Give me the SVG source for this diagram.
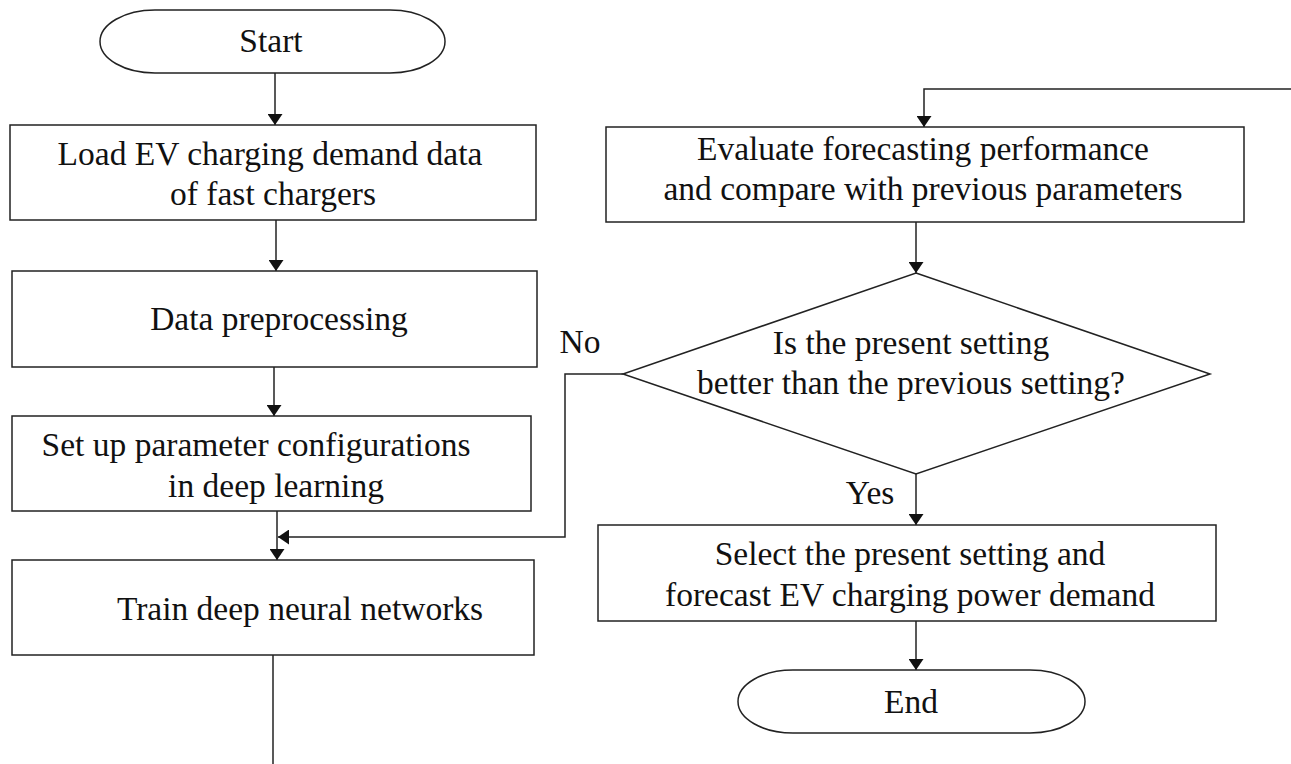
<svg xmlns="http://www.w3.org/2000/svg" width="1291" height="764" viewBox="0 0 1291 764">
<style>
.shape{fill:#fff;stroke:#222;stroke-width:1.5}
.conn{fill:none;stroke:#222;stroke-width:1.5}
text{font-family:"Liberation Serif","Times New Roman",serif;font-size:33.5px;fill:#111;text-anchor:middle}
</style>
<defs>
<marker id="ah" viewBox="0 0 11 15" refX="11" refY="7.5" markerWidth="11" markerHeight="15" markerUnits="userSpaceOnUse" orient="auto">
<path d="M0,0 L11,7.5 L0,15 z" fill="#111"/>
</marker>
</defs>
<rect width="1291" height="764" fill="#fff"/>
<g id="connectors">
<path class="conn" d="M275,73 V125" marker-end="url(#ah)"/>
<path class="conn" d="M276,220 V271" marker-end="url(#ah)"/>
<path class="conn" d="M274,367 V416" marker-end="url(#ah)"/>
<path class="conn" d="M277,511 V560" marker-end="url(#ah)"/>
<path class="conn" d="M623,374 H565 V537 H278" marker-end="url(#ah)"/>
<path class="conn" d="M273,655 V764"/>
<path class="conn" d="M1291,89 H924 V127" marker-end="url(#ah)"/>
<path class="conn" d="M916,222 V273" marker-end="url(#ah)"/>
<path class="conn" d="M916,474 V525" marker-end="url(#ah)"/>
<path class="conn" d="M916,621 V670" marker-end="url(#ah)"/>
<text x="580" y="353">No</text>
<text x="870" y="504">Yes</text>
</g>
<g id="start">
<rect class="shape" x="100" y="10" width="345" height="63" rx="55" ry="31.5"/>
<text x="271" y="52">Start</text>
</g>
<g id="load">
<rect class="shape" x="10" y="125" width="526" height="95"/>
<text x="270" y="165">Load EV charging demand data</text>
<text x="273" y="205">of fast chargers</text>
</g>
<g id="preprocess">
<rect class="shape" x="12" y="271" width="525" height="96"/>
<text x="279" y="330">Data preprocessing</text>
</g>
<g id="setup">
<rect class="shape" x="12" y="416" width="519" height="95"/>
<text x="256" y="456">Set up parameter configurations</text>
<text x="276" y="497">in deep learning</text>
</g>
<g id="train">
<rect class="shape" x="12" y="560" width="522" height="95"/>
<text x="300" y="620">Train deep neural networks</text>
</g>
<g id="evaluate">
<rect class="shape" x="606" y="127" width="638" height="95"/>
<text x="923" y="160">Evaluate forecasting performance</text>
<text x="923" y="200">and compare with previous parameters</text>
</g>
<g id="decision">
<polygon class="shape" points="916,273 1210,374 916,474 623,374"/>
<text x="911" y="354">Is the present setting</text>
<text x="911" y="394">better than the previous setting?</text>
</g>
<g id="select">
<rect class="shape" x="598" y="525" width="618" height="96"/>
<text x="910" y="565">Select the present setting and</text>
<text x="910" y="606">forecast EV charging power demand</text>
</g>
<g id="end">
<rect class="shape" x="738" y="670" width="347" height="63" rx="55" ry="31.5"/>
<text x="911" y="713">End</text>
</g>
</svg>
